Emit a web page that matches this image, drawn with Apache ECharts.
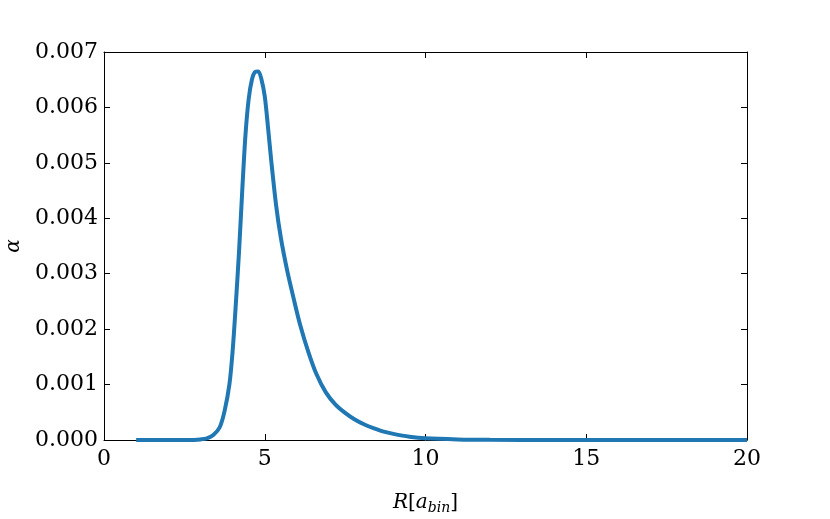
<!DOCTYPE html>
<html>
<head>
<meta charset="utf-8">
<script src="https://cdn.jsdelivr.net/npm/echarts@6/dist/echarts.min.js"></script>
<style>html,body{margin:0;padding:0;background:#fff}#c{width:830px;height:519px}</style>
</head>
<body>
<div id="c"></div>
<script>
const xValues = [1, 2, 2.8, 3.0, 3.2, 3.4, 3.6, 3.75, 3.9, 4.0, 4.1, 4.2, 4.3, 4.4, 4.5, 4.6, 4.7, 4.8, 4.9, 5.0, 5.1, 5.2, 5.35, 5.5, 5.7, 5.9, 6.1, 6.35, 6.6, 6.9, 7.2, 7.5, 7.8, 8.1, 8.4, 8.7, 9.0, 9.5, 10, 11, 12, 14, 16, 18, 20];
const alphaValues = [0, 0, 0.000002, 0.00001, 0.00003, 0.00009, 0.00023, 0.00052, 0.00100, 0.00160, 0.00245, 0.00340, 0.00450, 0.00550, 0.00615, 0.00650, 0.00664, 0.00665, 0.00650, 0.00620, 0.00565, 0.00505, 0.00425, 0.00365, 0.00305, 0.00255, 0.00208, 0.00160, 0.00120, 0.00086, 0.00064, 0.00049, 0.00037, 0.00028, 0.00021, 0.00015, 0.00011, 0.00006, 0.00003, 0.00001, 0.000003, 0, 0, 0, 0];
const xTicks = [0, 5, 10, 15, 20];
const yTicks = [0, 0.001, 0.002, 0.003, 0.004, 0.005, 0.006, 0.007];

const font = 'DejaVu Serif';
const chart = echarts.init(document.getElementById('c'), null, {renderer: 'canvas'});
const tickStyle = {inside: true, length: 6, lineStyle: {color: '#000', width: 1}};
const axLine = {show: true, onZero: false, lineStyle: {color: '#000', width: 1}};
chart.setOption({
  animation: false,
  backgroundColor: '#fff',
  grid: {left: 104, right: 83, top: 52, bottom: 79, show: false, containLabel: false, outerBoundsMode: 'none'},
  xAxis: [{
    type: 'value', min: 0, max: 20, interval: 5,
    axisLine: axLine, axisTick: tickStyle, splitLine: {show: false},
    axisLabel: {fontFamily: font, fontSize: 22, color: '#000', margin: 8},
    name: '{i|R}{n|[}{i|a}{s|bin}{n|]}',
    nameLocation: 'middle', nameGap: 51,
    nameTextStyle: {
      rich: {
        i: {fontFamily: font, fontStyle: 'italic', fontSize: 20, color: '#000'},
        n: {fontFamily: font, fontSize: 20, color: '#000'},
        s: {fontFamily: font, fontStyle: 'italic', fontSize: 14, color: '#000', padding: [10, 0, 0, 0]}
      }
    }
  }, {
    type: 'value', position: 'top', min: 0, max: 20, interval: 5,
    axisLine: axLine, axisTick: tickStyle, axisLabel: {show: false}, splitLine: {show: false}
  }],
  yAxis: [{
    type: 'value', min: 0, max: 0.007, interval: 0.001,
    axisLine: axLine, axisTick: tickStyle, splitLine: {show: false},
    axisLabel: {fontFamily: font, fontSize: 22, color: '#000', margin: 6, formatter: v => v.toFixed(3)},
    name: 'α', nameLocation: 'middle', nameGap: 80, nameRotate: 90,
    nameTextStyle: {fontFamily: font, fontStyle: 'italic', fontSize: 20, color: '#000'}
  }, {
    type: 'value', position: 'right', min: 0, max: 0.007, interval: 0.001,
    axisLine: axLine, axisTick: tickStyle, axisLabel: {show: false}, splitLine: {show: false}
  }],
  series: [{
    type: 'line',
    data: xValues.map((x, i) => [x, alphaValues[i]]),
    showSymbol: false, smooth: 0.3,
    lineStyle: {color: '#1f77b4', width: 4},
    z: 1
  }]
});
</script>
</body>
</html>
